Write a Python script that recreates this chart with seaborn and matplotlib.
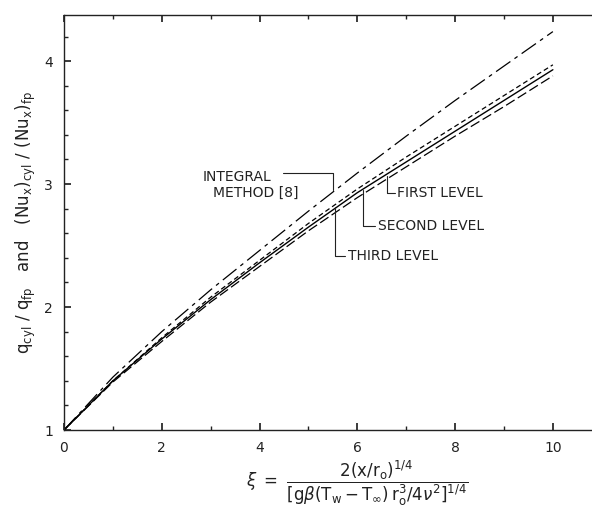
import matplotlib
matplotlib.use("Agg")
import matplotlib.pyplot as plt
import seaborn as sns
import pandas as pd
import numpy as np

xi = [0, 1, 2, 3, 4, 5, 6, 7, 8, 9, 10]
integral_method = [1.0, 1.43, 1.80, 2.14, 2.46, 2.78, 3.09, 3.39, 3.68, 3.96, 4.24]
first_level = [1.0, 1.40, 1.75, 2.08, 2.38, 2.68, 2.96, 3.22, 3.47, 3.72, 3.97]
second_level = [1.0, 1.40, 1.74, 2.06, 2.36, 2.65, 2.93, 3.18, 3.43, 3.68, 3.93]
third_level = [1.0, 1.39, 1.72, 2.04, 2.33, 2.62, 2.89, 3.14, 3.39, 3.63, 3.88]

x_ticks = [0, 2, 4, 6, 8, 10]
y_ticks = [1, 2, 3, 4]

sns.set_theme(style="ticks")
plt.rcParams['font.family'] = ['DejaVu Sans']
plt.rcParams['mathtext.fontset'] = 'dejavusans'

fig = plt.figure(figsize=(5.92, 5.14), dpi=100)
ax = fig.add_axes([64/592, 84/514, 528/592, 415/514])

df = pd.DataFrame({"xi": xi, "integral": integral_method, "first": first_level,
                   "second": second_level, "third": third_level})

sns.lineplot(data=df, x="xi", y="integral", ax=ax, color="black", lw=0.9,
             linestyle=(0, (14, 4, 3, 4)))
sns.lineplot(data=df, x="xi", y="first", ax=ax, color="black", lw=0.9,
             linestyle=(0, (4, 2.5)))
sns.lineplot(data=df, x="xi", y="second", ax=ax, color="black", lw=1.0,
             linestyle="-")
sns.lineplot(data=df, x="xi", y="third", ax=ax, color="black", lw=0.9,
             linestyle=(0, (8, 3)))

ax.set_xlim(0, 10.8)
ax.set_ylim(1, 4.375)
ax.set_xticks(x_ticks)
ax.set_xticklabels([str(t) for t in x_ticks])
ax.set_yticks(y_ticks)
ax.set_yticklabels([str(t) for t in y_ticks])
ax.set_xticks(np.arange(0, 10.81, 1), minor=True)
ax.set_yticks(np.arange(1, 4.376, 0.2), minor=True)
ax.tick_params(which="both", direction="in", top=True, right=False, colors="#222222",
               labelsize=10, pad=8)
ax.tick_params(which="major", length=5)
ax.tick_params(which="minor", length=3)
for s in ["left", "bottom", "top"]:
    ax.spines[s].set_color("#222222")
    ax.spines[s].set_linewidth(1.0)
ax.spines["right"].set_visible(False)

ax.set_xlabel(r"$\xi\ =\ \dfrac{2(\mathrm{x}/\mathrm{r_o})^{1/4}}{[\mathrm{g}\beta(\mathrm{T_w} - \mathrm{T_\infty})\,\mathrm{r_o^3}/4\nu^2]^{1/4}}$",
              fontsize=12, color="#222222")
ax.xaxis.set_label_coords(0.555, -0.07, transform=ax.transAxes)
ax.xaxis.label.set_va("top")
ax.set_ylabel(r"$\mathrm{q_{cyl}\ /\ q_{fp}}$   and   $\mathrm{(Nu_x)_{cyl}\ /\ (Nu_x)_{fp}}$",
              fontsize=12, color="#222222")
ax.yaxis.set_label_coords(-0.05, 0.5)


def px(x, y):
    return (x - 64) / 48.9, 1 + (430 - y) / 123.0


kw = dict(color="#222222", lw=0.8)
tkw = dict(fontsize=10, va="center", ha="left", color="#222222")
# integral method leader
pts = [px(283, 173), px(333, 173), px(333, 190)]
ax.plot([p[0] for p in pts], [p[1] for p in pts], **kw)
tx, ty = px(203, 177)
ax.text(tx, ty, "INTEGRAL", **tkw)
tx, ty = px(213, 193)
ax.text(tx, ty, "METHOD [8]", **tkw)

# first level
pts = [px(387, 176), px(387, 193), px(395, 193)]
ax.plot([p[0] for p in pts], [p[1] for p in pts], **kw)
tx, ty = px(397, 193)
ax.text(tx, ty, "FIRST LEVEL", **tkw)
# second level
pts = [px(363, 190), px(363, 226), px(375, 226)]
ax.plot([p[0] for p in pts], [p[1] for p in pts], **kw)
tx, ty = px(378, 226)
ax.text(tx, ty, "SECOND LEVEL", **tkw)
# third level
pts = [px(335, 207), px(335, 256), px(345, 256)]
ax.plot([p[0] for p in pts], [p[1] for p in pts], **kw)
tx, ty = px(348, 256)
ax.text(tx, ty, "THIRD LEVEL", **tkw)

fig.savefig("out.png", dpi=100)
